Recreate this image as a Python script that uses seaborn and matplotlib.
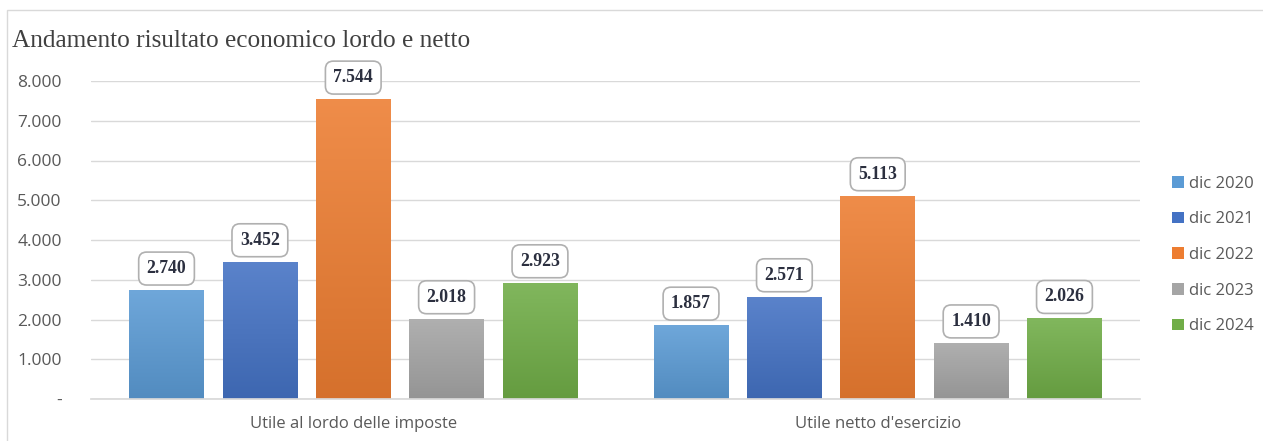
import numpy as np
import pandas as pd
import matplotlib
matplotlib.use("Agg")
import matplotlib.pyplot as plt
import matplotlib.colors as mcolors
from matplotlib.patches import Rectangle, Patch
import seaborn as sns

# Data (thousands of euro)
categories = ["Utile al lordo delle imposte", "Utile netto d'esercizio"]
years = ["dic 2020", "dic 2021", "dic 2022", "dic 2023", "dic 2024"]
lordo = [2740, 3452, 7544, 2018, 2923]
netto = [1857, 2571, 5113, 1410, 2026]
y_ticks = [0, 1000, 2000, 3000, 4000, 5000, 6000, 7000, 8000]

colors = ["#5B9BD5", "#4472C4", "#ED7D31", "#A5A5A5", "#70AD47"]

df = pd.DataFrame({
    "categoria": [categories[0]] * len(years) + [categories[1]] * len(years),
    "periodo": years * 2,
    "valore": lordo + netto,
})

sns.set_theme(style="white")
plt.rcParams["font.family"] = ["Open Sans", "DejaVu Sans"]

fig = plt.figure(figsize=(12.63, 4.41), dpi=100)
fig.patch.set_facecolor("white")
# thin frame around the chart area
fig.patches.append(Rectangle((7 / 1263, -0.01), 1.0, 1 - 10 / 441 + 0.01,
                             transform=fig.transFigure, fill=False,
                             edgecolor="#d9d9d9", linewidth=1.0))

ax = fig.add_axes([91 / 1263, 42 / 441, 1049 / 1263, 318 / 441])
sns.barplot(data=df, x="categoria", y="valore", hue="periodo",
            hue_order=years, order=categories, palette=colors,
            width=0.89, gap=0.2, ax=ax, legend=False, saturation=1)


def shade(c, f):
    """Lighten (f > 0) or darken (f < 0) a colour."""
    r, g, b = mcolors.to_rgb(c)
    if f > 0:
        return (r + (1 - r) * f, g + (1 - g) * f, b + (1 - b) * f)
    return (r * (1 + f), g * (1 + f), b * (1 + f))


# vertical gradient fill on each bar
bars = sorted(ax.patches, key=lambda p: p.get_x())
for bar in bars:
    x0, y0 = bar.get_x(), bar.get_y()
    w, h = bar.get_width(), bar.get_height()
    base = bar.get_facecolor()
    top, bottom = shade(base, 0.12), shade(base, -0.10)
    grad = np.linspace(0, 1, 256)[:, None]
    cols = np.array(top)[None, :] * (1 - grad) + np.array(bottom)[None, :] * grad
    im = ax.imshow(cols[:, None, :], extent=(x0, x0 + w, y0, y0 + h), origin="upper",
                   aspect="auto", zorder=bar.get_zorder(), interpolation="bilinear")
    im.set_clip_path(bar)
    bar.set_facecolor("none")
    bar.set_edgecolor("none")

ax.set_ylim(0, 8000)
ax.set_xlim(-0.5, 1.5)

# value labels in rounded boxes
for b in bars:
    v = b.get_height()
    ax.annotate(f"{v:,.0f}".replace(",", "."),
                xy=(b.get_x() + b.get_width() / 2, v),
                xytext=(0, 15.5), textcoords="offset points",
                ha="center", va="center", fontsize=12.75, fontweight="bold",
                family="Liberation Serif", color="#2b2f3f",
                bbox=dict(boxstyle="round,pad=0.45,rounding_size=0.45",
                          facecolor="white", edgecolor="#b0b0b0", linewidth=1.2),
                zorder=5)

# axes styling
ax.set_yticks(y_ticks)
ax.set_yticklabels(["-" if t == 0 else f"{t:,.0f}".replace(",", ".") for t in y_ticks],
                   fontsize=12.5, color="#595959")
ax.tick_params(axis="y", length=0, pad=21)
ax.tick_params(axis="x", length=0, pad=12, labelsize=12, labelcolor="#595959")
ax.yaxis.grid(True, color="#d9d9d9", linewidth=1.0)
ax.set_axisbelow(True)
for s in ["top", "right", "left"]:
    ax.spines[s].set_visible(False)
ax.spines["bottom"].set_color("#d9d9d9")
ax.set_xlabel("")
ax.set_ylabel("")

# legend
handles = [Patch(facecolor=c, edgecolor="none", label=y) for c, y in zip(colors, years)]
fig.legend(handles=handles, loc="center left", bbox_to_anchor=(1157 / 1263, 1 - 255 / 441),
           frameon=False, fontsize=12, labelcolor="#595959",
           handlelength=0.7, handleheight=0.7, handletextpad=0.3,
           labelspacing=1.18)

fig.text(12 / 1263, 1 - 41 / 441, "Andamento risultato economico lordo e netto",
         family="Liberation Serif", fontsize=18.2, color="#404040", va="center", ha="left")

fig.savefig("out.png", dpi=100, facecolor="white")
